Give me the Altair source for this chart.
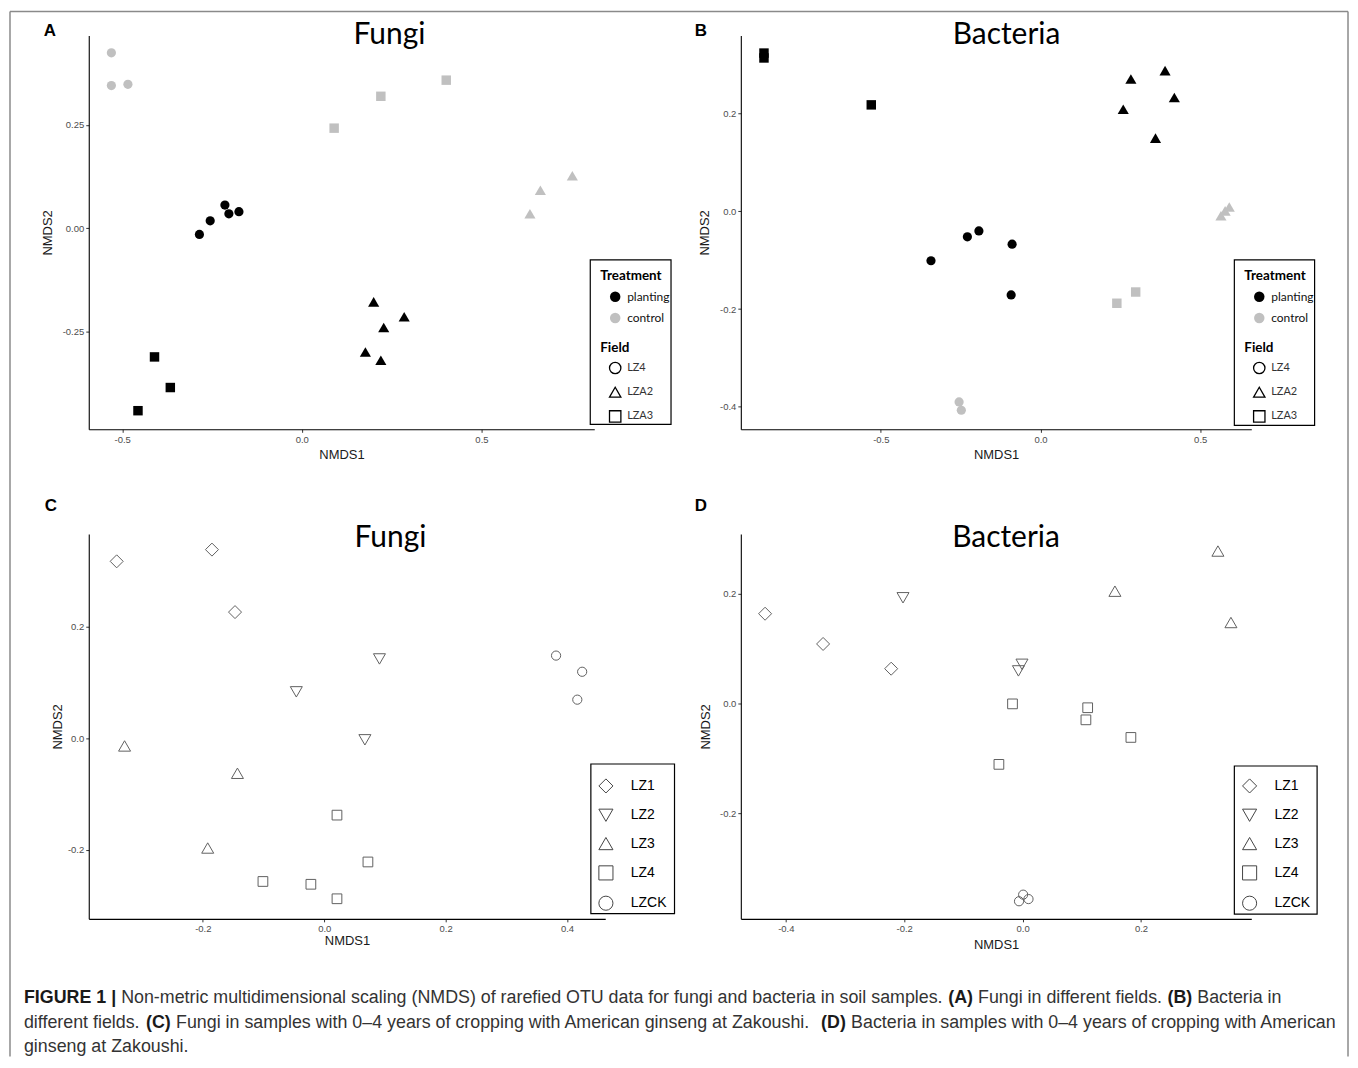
import altair as alt
import pandas as pd

# ---------------- data ----------------
# (A) Fungi in different fields
A_nmds1 = [-0.285, -0.255, -0.214, -0.203, -0.175,
           0.200, 0.285, 0.228, 0.177, 0.220,
           -0.410, -0.366, -0.456,
           -0.530, -0.530, -0.484,
           0.090, 0.220, 0.402,
           0.635, 0.664, 0.753]
A_nmds2 = [-0.015, 0.018, 0.056, 0.035, 0.040,
           -0.178, -0.214, -0.240, -0.299, -0.319,
           -0.311, -0.385, -0.441,
           0.424, 0.345, 0.348,
           0.242, 0.319, 0.358,
           0.035, 0.092, 0.127]
A_treatment = ["planting"] * 13 + ["control"] * 9
A_field = ["LZ4"] * 5 + ["LZA2"] * 5 + ["LZA3"] * 3 + ["LZ4"] * 3 + ["LZA3"] * 3 + ["LZA2"] * 3

# (B) Bacteria in different fields
B_nmds1 = [-0.229, -0.193, -0.089, -0.343, -0.092,
           0.283, 0.390, 0.419, 0.259, 0.360,
           -0.866, -0.866, -0.530,
           -0.255, -0.248,
           0.239, 0.298,
           0.565, 0.578, 0.591]
B_nmds2 = [-0.052, -0.040, -0.067, -0.101, -0.171,
           0.271, 0.288, 0.233, 0.209, 0.150,
           0.324, 0.314, 0.218,
           -0.390, -0.407,
           -0.188, -0.165,
           -0.009, 0.001, 0.009]
B_treatment = ["planting"] * 13 + ["control"] * 7
B_field = ["LZ4"] * 5 + ["LZA2"] * 5 + ["LZA3"] * 3 + ["LZ4"] * 2 + ["LZA3"] * 2 + ["LZA2"] * 3

# (C) Fungi, years of cropping
C_nmds1 = [-0.342, -0.185, -0.147,
           0.091, -0.046, 0.067,
           -0.329, -0.143, -0.192,
           0.021, 0.072, -0.101, -0.022, 0.021,
           0.382, 0.425, 0.417]
C_nmds2 = [0.317, 0.338, 0.226,
           0.142, 0.083, -0.003,
           -0.014, -0.063, -0.197,
           -0.138, -0.222, -0.257, -0.262, -0.288,
           0.148, 0.119, 0.069]
C_group = ["LZ1"] * 3 + ["LZ2"] * 3 + ["LZ3"] * 3 + ["LZ4"] * 5 + ["LZCK"] * 3

# (D) Bacteria, years of cropping
D_nmds1 = [-0.435, -0.337, -0.222,
           -0.202, -0.001, -0.007,
           0.330, 0.156, 0.352,
           -0.017, 0.110, 0.107, 0.183, -0.040,
           0.001, -0.006, 0.010]
D_nmds2 = [0.163, 0.108, 0.063,
           0.192, 0.071, 0.059,
           0.277, 0.204, 0.147,
           -0.001, -0.008, -0.030, -0.062, -0.111,
           -0.348, -0.360, -0.356]
D_group = ["LZ1"] * 3 + ["LZ2"] * 3 + ["LZ3"] * 3 + ["LZ4"] * 5 + ["LZCK"] * 3

# axis extents and tick labels
A_x_domain = [-0.593, 0.814]
A_y_domain = [-0.486, 0.466]
A_x_ticks = [-0.5, 0.0, 0.5]
A_y_ticks = [-0.25, 0.0, 0.25]
B_x_domain = [-0.9385, 0.660]
B_y_domain = [-0.446, 0.360]
B_x_ticks = [-0.5, 0.0, 0.5]
B_y_ticks = [-0.4, -0.2, 0.0, 0.2]
C_x_domain = [-0.388, 0.463]
C_y_domain = [-0.324, 0.366]
C_x_ticks = [-0.2, 0.0, 0.2, 0.4]
C_y_ticks = [-0.2, 0.0, 0.2]
D_x_domain = [-0.476, 0.3864]
D_y_domain = [-0.392, 0.308]
D_x_ticks = [-0.4, -0.2, 0.0, 0.2]
D_y_ticks = [-0.2, 0.0, 0.2]

treat_levels = ["planting", "control"]
field_levels = ["LZ4", "LZA2", "LZA3"]
group_levels = ["LZ1", "LZ2", "LZ3", "LZ4", "LZCK"]

panel_titles = ["Fungi", "Bacteria", "Fungi", "Bacteria"]
panel_letters = ["A", "B", "C", "D"]

caption_line1 = ["FIGURE 1 |",
                 "Non-metric multidimensional scaling (NMDS) of rarefied OTU data for fungi and bacteria in soil samples.",
                 "(A)", "Fungi in different fields.", "(B)", "Bacteria in"]
caption_line2 = ["different fields.", "(C)",
                 "Fungi in samples with 0\u20134 years of cropping with American ginseng at Zakoushi.",
                 "(D)", "Bacteria in samples with 0\u20134 years of cropping with American"]
caption_line3 = ["ginseng at Zakoushi."]
caption_bold1 = [True, False, True, False, True, False]
caption_bold2 = [False, True, False, True, False]

# ---------------- styles ----------------
F_SANS = "Liberation Sans"
F_TITLE = "Lato"
treat_colors = ["#000000", "#c0c0c0"]
field_shapes = ["circle", "triangle-up", "square"]
field_sizes = [85, 125, 90]
group_shapes = ["diamond", "triangle-down", "triangle-up", "square", "circle"]
group_sizes = [170, 145, 145, 95, 85]
MINUS_FIX = "replace(datum.label, '\u2212', '-')"


def txt(t, x, y, size, font=F_SANS, weight="normal", align="left", color="black"):
    return alt.Chart(pd.DataFrame({"t": [t]})).mark_text(
        font=font, fontSize=size, fontWeight=weight, align=align,
        baseline="alphabetic", color=color
    ).encode(text="t:N", x=alt.value(x), y=alt.value(y))


def frame(x1, x2, y1, y2):
    return alt.Chart(pd.DataFrame({"k": [0]})).mark_rect(
        fill="white", stroke="black", strokeWidth=1.2
    ).encode(x=alt.value(x1), x2=alt.value(x2), y=alt.value(y1), y2=alt.value(y2))


def vrule(x, y1, y2):
    return alt.Chart(pd.DataFrame({"k": [0]})).mark_rule(
        color="#8a8a8a", strokeWidth=1.5
    ).encode(x=alt.value(x), y=alt.value(y1), y2=alt.value(y2))


def hrule(x1, x2, y):
    return alt.Chart(pd.DataFrame({"k": [0]})).mark_rule(
        color="#8a8a8a", strokeWidth=1.5
    ).encode(x=alt.value(x1), x2=alt.value(x2), y=alt.value(y))


def xenc(dom, ticks, fmt, pad):
    return alt.X("NMDS1:Q", scale=alt.Scale(domain=dom, nice=False, zero=False),
                 axis=alt.Axis(values=ticks, format=fmt, title="NMDS1",
                               titlePadding=pad, labelExpr=MINUS_FIX))


def yenc(dom, ticks, fmt, pad):
    return alt.Y("NMDS2:Q", scale=alt.Scale(domain=dom, nice=False, zero=False),
                 axis=alt.Axis(values=ticks, format=fmt, title="NMDS2",
                               titlePadding=pad, labelExpr=MINUS_FIX))


def field_points(xs, ys, treat, field, xdom, ydom, xt, yt, xfmt, yfmt, xpad, ypad, lx):
    df = pd.DataFrame({"NMDS1": xs, "NMDS2": ys, "Treatment": treat,
                       "Field": field, "FieldSize": field})
    return alt.Chart(df).mark_point(filled=True, opacity=1).encode(
        x=xenc(xdom, xt, xfmt, xpad),
        y=yenc(ydom, yt, yfmt, ypad),
        color=alt.Color("Treatment:N",
                        scale=alt.Scale(domain=treat_levels, range=treat_colors),
                        legend=alt.Legend(title="Treatment", orient="none", legendX=lx, legendY=234.5,
                                          padding=0, titleFont=F_TITLE, titleFontSize=13.5,
                                          titleFontWeight="bold", titleColor="black", titlePadding=8,
                                          labelFont=F_TITLE, labelFontSize=12, labelColor="#111111",
                                          labelOffset=6, symbolType="circle", symbolSize=110,
                                          symbolStrokeWidth=0, symbolOffset=9, rowPadding=9.3)),
        shape=alt.Shape("Field:N",
                        scale=alt.Scale(domain=field_levels, range=field_shapes),
                        legend=alt.Legend(title="Field", orient="none", legendX=lx, legendY=306,
                                          padding=0, titleFont=F_TITLE, titleFontSize=13.5,
                                          titleFontWeight="bold", titleColor="black", titlePadding=7.5,
                                          labelFont=F_TITLE, labelFontSize=11, labelColor="#333333",
                                          labelOffset=5.5, symbolSize=130, symbolFillColor="white",
                                          symbolStrokeColor="black", symbolStrokeWidth=1.3,
                                          symbolOffset=8.5, rowPadding=7.3)),
        size=alt.Size("FieldSize:N",
                      scale=alt.Scale(type="ordinal", range=field_sizes),
                      legend=None),
    )


def group_points(xs, ys, grp, xdom, ydom, xt, yt, xpad, ypad, lx):
    df = pd.DataFrame({"NMDS1": xs, "NMDS2": ys, "Group": grp, "GroupSize": grp})
    return alt.Chart(df).mark_point(filled=False, opacity=1, strokeWidth=1, color="#606060").encode(
        x=xenc(xdom, xt, ".1f", xpad),
        y=yenc(ydom, yt, ".1f", ypad),
        shape=alt.Shape("Group:N",
                        scale=alt.Scale(domain=group_levels, range=group_shapes),
                        legend=alt.Legend(title=None, orient="none", legendX=lx, legendY=244.7,
                                          padding=0, labelFont=F_SANS, labelFontSize=14,
                                          labelColor="black", labelOffset=17, symbolSize=200,
                                          symbolStrokeWidth=1, symbolStrokeColor="#444444",
                                          rowPadding=10.4)),
        size=alt.Size("GroupSize:N",
                      scale=alt.Scale(type="ordinal", range=group_sizes),
                      legend=None),
    )


# ---------------- caption (positions relative to panel A plot origin) ----------------
cap_x1 = [-65, 32.5, 862.1, 891.9, 1082.0, 1111.8]
cap_x2 = [-65, 57.4, 87.5, 734.5, 764.6]
cap_y = [970.5, 995, 1019.5]
CAP_SIZE = 17.9
caption_layers = []
for t, b, x in zip(caption_line1, caption_bold1, cap_x1):
    caption_layers.append(txt(t, x, cap_y[0], CAP_SIZE, weight="bold" if b else "normal",
                              color="#1a1a1a" if b else "#333333"))
for t, b, x in zip(caption_line2, caption_bold2, cap_x2):
    caption_layers.append(txt(t, x, cap_y[1], CAP_SIZE, weight="bold" if b else "normal",
                              color="#1a1a1a" if b else "#333333"))
caption_layers.append(txt(caption_line3[0], -65, cap_y[2], CAP_SIZE, color="#333333"))

border = [vrule(-79, -24, 1024), hrule(-79, 1263, -24), vrule(1263, -24, 1024)]

# ---------------- panels ----------------
panelA = alt.layer(
    *border,
    frame(503, 584, 225, 390),
    field_points(A_nmds1, A_nmds2, A_treatment, A_field, A_x_domain, A_y_domain,
                 A_x_ticks, A_y_ticks, ".1f", ".2f", 4.5, 8, 513),
    txt(panel_titles[0], 301.6, 8.3, 30, font=F_TITLE, align="center"),
    txt(panel_letters[0], -39, 0.8, 17, weight="bold", align="center"),
    *caption_layers,
).properties(width=507, height=395)

panelB = alt.layer(
    frame(495, 575.5, 225, 391),
    field_points(B_nmds1, B_nmds2, B_treatment, B_field, B_x_domain, B_y_domain,
                 B_x_ticks, B_y_ticks, ".1f", ".1f", 4.5, 8, 505),
    txt(panel_titles[1], 266.5, 8.3, 30, font=F_TITLE, align="center"),
    txt(panel_letters[1], -40, 0.1, 17, weight="bold", align="center"),
).properties(width=512, height=395)

panelC = alt.layer(
    frame(503.6, 587.5, 230.7, 380.7),
    group_points(C_nmds1, C_nmds2, C_group, C_x_domain, C_y_domain,
                 C_x_ticks, C_y_ticks, 1.5, 3, 510.7),
    txt(panel_titles[2], 302.6, 13.3, 30, font=F_TITLE, align="center"),
    txt(panel_letters[2], -38, -23.4, 17, weight="bold", align="center"),
).properties(width=518, height=386)

panelD = alt.layer(
    frame(495, 578, 232.7, 381.3),
    group_points(D_nmds1, D_nmds2, D_group, D_x_domain, D_y_domain,
                 D_x_ticks, D_y_ticks, 5.5, 7.5, 502.3),
    txt(panel_titles[3], 266, 13, 30, font=F_TITLE, align="center"),
    txt(panel_letters[3], -40, -23.4, 17, weight="bold", align="center"),
).properties(width=512, height=386)

ind = dict(color="independent", shape="independent", size="independent")

chart = alt.concat(
    panelA, panelB, panelC, panelD, columns=2,
    spacing={"row": 105, "column": 136}, bounds="flush"
).resolve_scale(**ind).resolve_legend(**ind).properties(
    padding={"left": 0, "top": 0, "right": 0, "bottom": 0}, background="white"
).configure(
    padding={"left": 0, "top": 0, "right": 0, "bottom": 0}
).configure_view(
    stroke="transparent"
).configure_axis(
    grid=False, domainColor="black", domainWidth=1.1, tickColor="#333333", tickSize=3,
    tickWidth=1, labelFont=F_SANS, labelFontSize=9.5, labelColor="#4d4d4d", labelPadding=2,
    labelFlush=False, titleFont=F_SANS, titleFontSize=13, titleFontWeight="normal",
    titleColor="#1a1a1a"
)

chart.save("out.html", embed_options={"renderer": "svg", "actions": False})
